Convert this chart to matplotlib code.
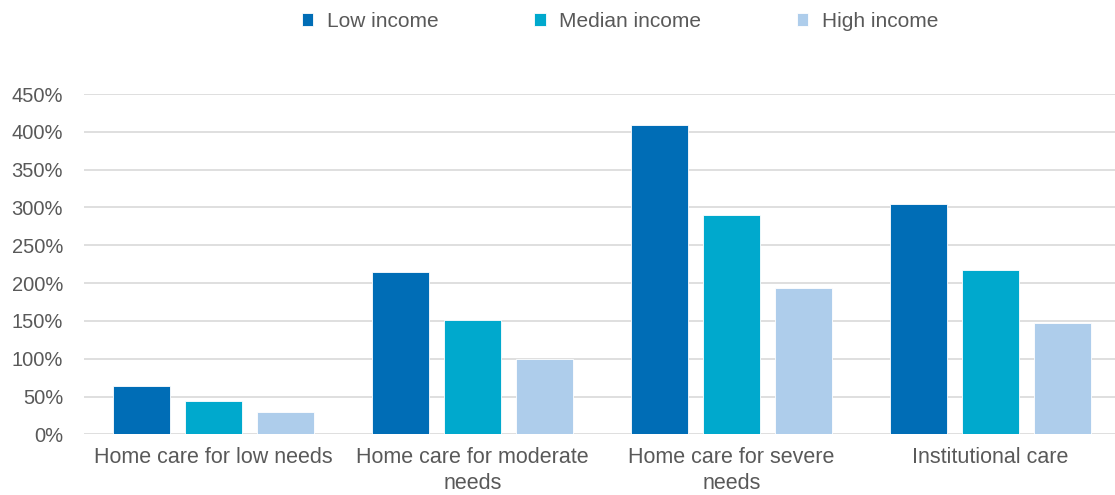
import matplotlib
matplotlib.use("Agg")
import matplotlib.pyplot as plt
import numpy as np

categories = ["Home care for low needs", "Home care for moderate\nneeds",
              "Home care for severe\nneeds", "Institutional care"]
series_names = ["Low income", "Median income", "High income"]
low_income = [64, 215, 409, 304]
median_income = [44, 151, 290, 217]
high_income = [29, 100, 193, 147]
yticks = [0, 50, 100, 150, 200, 250, 300, 350, 400, 450]

colors = ["#006db6", "#00a9cd", "#aecdeb"]
plt.rcParams["font.family"] = ["Liberation Sans", "DejaVu Sans"]

fig = plt.figure(figsize=(11.15, 4.95), dpi=100)
ax = fig.add_axes([0.0753, 0.1226, 0.929, 0.6875])

x = np.arange(len(categories))
step = 0.279
width = 0.22
for i, (name, vals) in enumerate(zip(series_names, [low_income, median_income, high_income])):
    ax.bar(x + (i - 1) * step, vals, width, color=colors[i], label=name,
           edgecolor="white", linewidth=0.6, zorder=3)

ax.set_xlim(-0.5, len(categories) - 0.5)
ax.set_ylim(0, 450)
ax.set_yticks(yticks, [f"{v}%" for v in yticks])
ax.set_xticks(x, categories)
ax.tick_params(axis="both", length=0, colors="#595959")
ax.tick_params(axis="y", pad=15, labelsize=14.5)
ax.tick_params(axis="x", pad=9, labelsize=15.5)
for lbl in ax.get_xticklabels():
    lbl.set_linespacing(1.3)
ax.grid(True, axis="y", color="#d9d9d9", linewidth=1.2, zorder=0)
for s in ax.spines.values():
    s.set_visible(False)

fig.legend(loc="center", bbox_to_anchor=(0.556, 0.957), ncol=3, frameon=False,
           fontsize=15, labelcolor="#595959", handlelength=0.55, handleheight=0.55,
           columnspacing=4.6, handletextpad=0.65)

fig.savefig("out.png", dpi=100)
